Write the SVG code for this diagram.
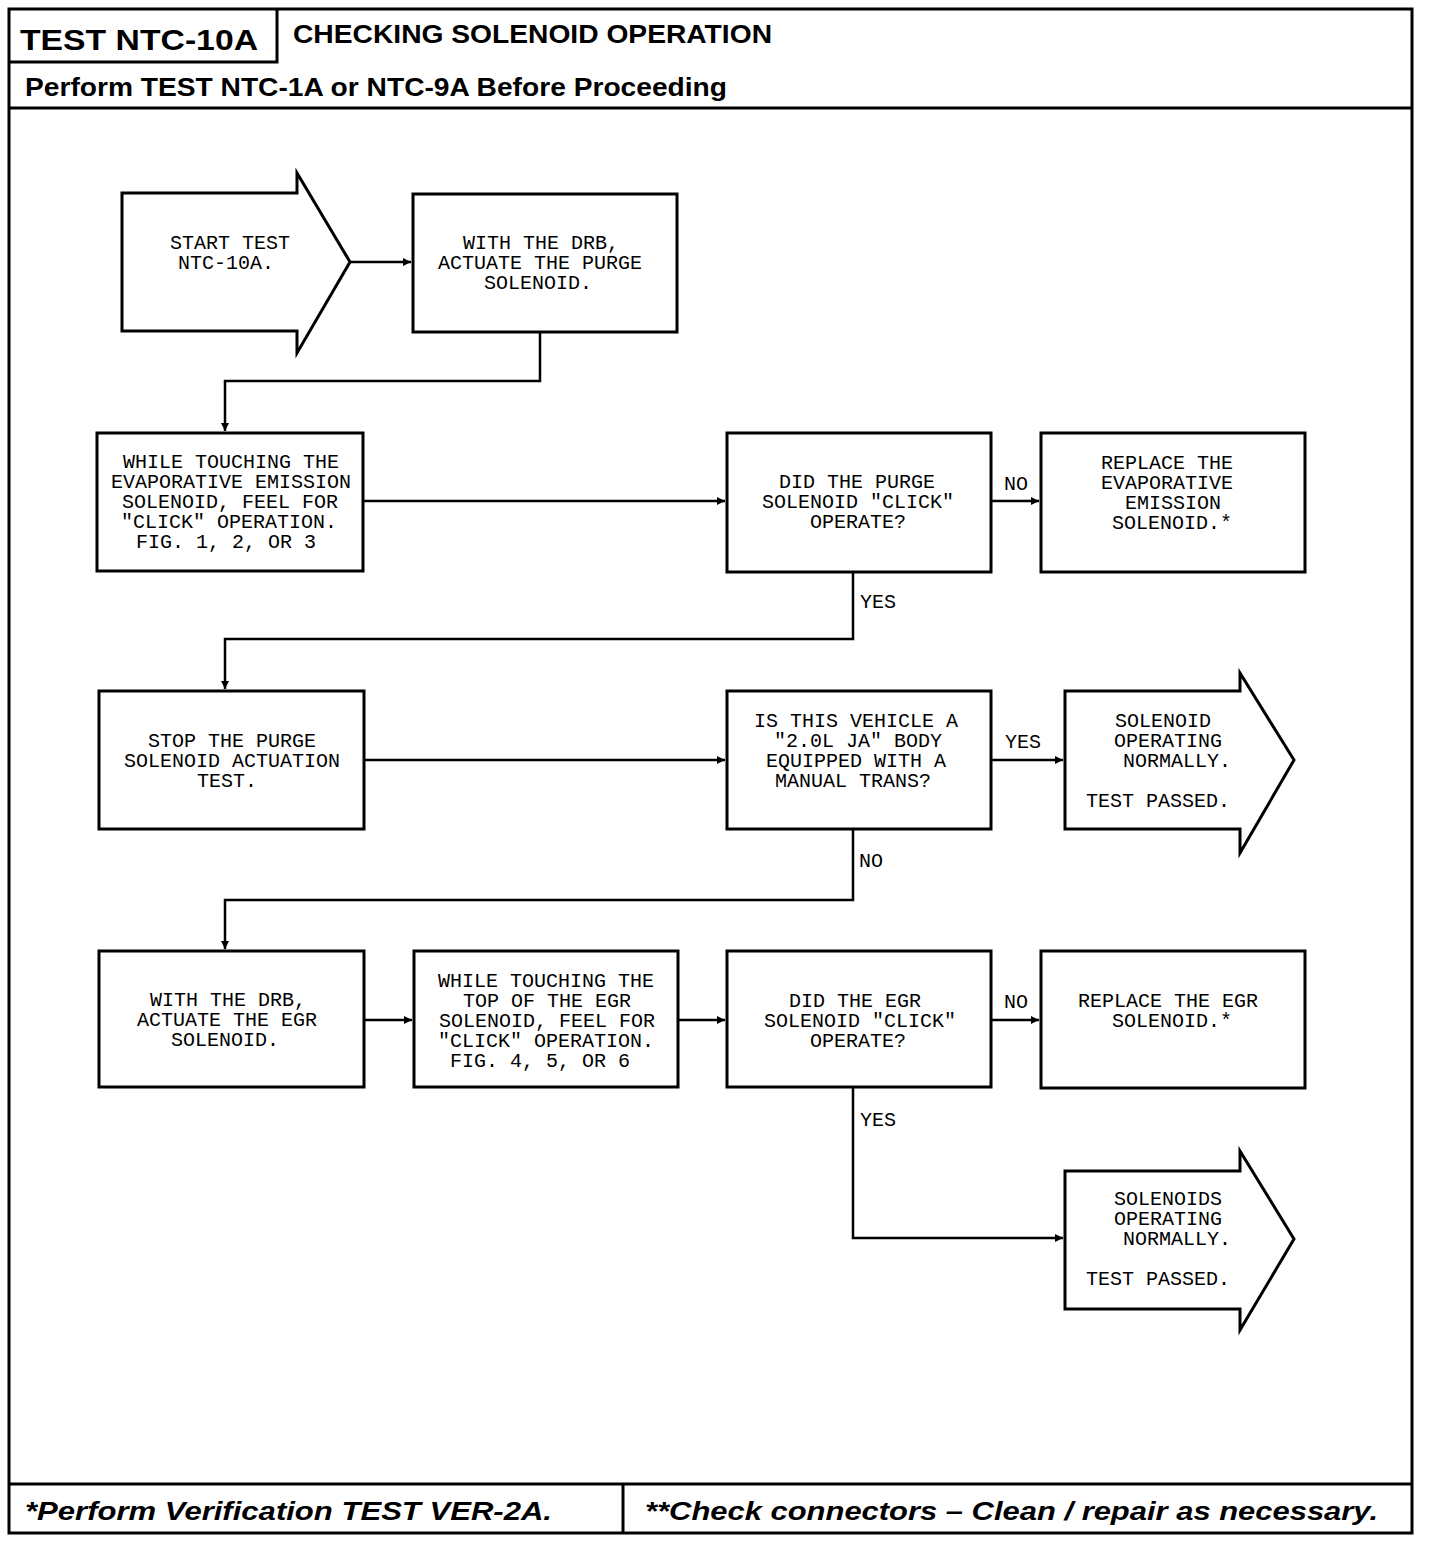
<svg xmlns="http://www.w3.org/2000/svg" width="1440" height="1542" viewBox="0 0 1440 1542">
<style>
.frame{fill:none;stroke:#000;stroke-width:3}
.box{fill:#fff;stroke:#000;stroke-width:3}
.conn{fill:none;stroke:#000;stroke-width:2.5}
.t{font-family:"Liberation Mono","DejaVu Sans Mono",monospace;font-size:20px;fill:#000;text-anchor:middle}
.lbl{font-family:"Liberation Mono","DejaVu Sans Mono",monospace;font-size:20px;fill:#000}
.h{font-family:"Liberation Sans",Arial,sans-serif;font-weight:bold;fill:#000}
.f{font-family:"Liberation Sans",Arial,sans-serif;font-weight:bold;font-style:italic;fill:#000}
</style>
<defs>
<marker id="ah" markerWidth="10" markerHeight="10" refX="8" refY="4" orient="auto" markerUnits="userSpaceOnUse">
<path d="M0,0 L8,4 L0,8 Z" fill="#000"/>
</marker>
</defs>
<rect width="1440" height="1542" fill="#fff"/>
<g id="frame">
<rect class="frame" x="9" y="9" width="1403" height="1524"/>
<path class="frame" d="M9,62 H277 V9"/>
<line class="frame" x1="9" y1="108" x2="1412" y2="108"/>
<line class="frame" x1="9" y1="1484" x2="1412" y2="1484"/>
<line class="frame" x1="623" y1="1484" x2="623" y2="1533"/>
<text class="h" x="20" y="50" font-size="30" textLength="238" lengthAdjust="spacingAndGlyphs">TEST NTC-10A</text>
<text class="h" x="293" y="43" font-size="26" textLength="479" lengthAdjust="spacingAndGlyphs">CHECKING SOLENOID OPERATION</text>
<text class="h" x="25" y="96" font-size="26" textLength="702" lengthAdjust="spacingAndGlyphs">Perform TEST NTC-1A or NTC-9A Before Proceeding</text>
<text class="f" x="25" y="1520" font-size="26" textLength="527" lengthAdjust="spacingAndGlyphs">*Perform  Verification TEST VER-2A.</text>
<text class="f" x="645" y="1520" font-size="26" textLength="733" lengthAdjust="spacingAndGlyphs">**Check connectors – Clean / repair as necessary.</text>
</g>
<g id="connectors">
<line class="conn" x1="350" y1="262" x2="411" y2="262" marker-end="url(#ah)"/>
<path class="conn" d="M540,332 V381 H225 V431" marker-end="url(#ah)"/>
<line class="conn" x1="363" y1="501" x2="725" y2="501" marker-end="url(#ah)"/>
<line class="conn" x1="991" y1="501" x2="1039" y2="501" marker-end="url(#ah)"/>
<path class="conn" d="M853,572 V639 H225 V689" marker-end="url(#ah)"/>
<line class="conn" x1="364" y1="760" x2="725" y2="760" marker-end="url(#ah)"/>
<line class="conn" x1="991" y1="760" x2="1063" y2="760" marker-end="url(#ah)"/>
<path class="conn" d="M853,829 V900 H225 V949" marker-end="url(#ah)"/>
<line class="conn" x1="364" y1="1020" x2="412" y2="1020" marker-end="url(#ah)"/>
<line class="conn" x1="678" y1="1020" x2="725" y2="1020" marker-end="url(#ah)"/>
<line class="conn" x1="991" y1="1020" x2="1039" y2="1020" marker-end="url(#ah)"/>
<path class="conn" d="M853,1087 V1238 H1063" marker-end="url(#ah)"/>
<text class="lbl" x="1004" y="490">NO</text>
<text class="lbl" x="860" y="608">YES</text>
<text class="lbl" x="1005" y="748">YES</text>
<text class="lbl" x="859" y="867">NO</text>
<text class="lbl" x="1004" y="1008">NO</text>
<text class="lbl" x="860" y="1126">YES</text>
</g>
<g id="start">
<path class="box" d="M122,193 H297 V173 L350,262 L297,353 V331 H122 Z"/>
<text class="t" x="230" y="249">START TEST</text>
<text class="t" x="226" y="269">NTC-10A.</text>
</g>
<g id="actuate-purge">
<rect class="box" x="413" y="194" width="264" height="138"/>
<text class="t" x="541" y="249">WITH THE DRB,</text>
<text class="t" x="540" y="269">ACTUATE THE PURGE</text>
<text class="t" x="538" y="289">SOLENOID.</text>
</g>
<g id="touch-evap">
<rect class="box" x="97" y="433" width="266" height="138"/>
<text class="t" x="231" y="468">WHILE TOUCHING THE</text>
<text class="t" x="231" y="488">EVAPORATIVE EMISSION</text>
<text class="t" x="230" y="508">SOLENOID, FEEL FOR</text>
<text class="t" x="229" y="528">"CLICK" OPERATION.</text>
<text class="t" x="226" y="548">FIG. 1, 2, OR 3</text>
</g>
<g id="purge-click">
<rect class="box" x="727" y="433" width="264" height="139"/>
<text class="t" x="857" y="488">DID THE PURGE</text>
<text class="t" x="858" y="508">SOLENOID "CLICK"</text>
<text class="t" x="858" y="528">OPERATE?</text>
</g>
<g id="replace-evap">
<rect class="box" x="1041" y="433" width="264" height="139"/>
<text class="t" x="1167" y="469">REPLACE THE</text>
<text class="t" x="1167" y="489">EVAPORATIVE</text>
<text class="t" x="1173" y="509">EMISSION</text>
<text class="t" x="1172" y="529">SOLENOID.*</text>
</g>
<g id="stop-purge">
<rect class="box" x="99" y="691" width="265" height="138"/>
<text class="t" x="232" y="747">STOP THE PURGE</text>
<text class="t" x="232" y="767">SOLENOID ACTUATION</text>
<text class="t" x="227" y="787">TEST.</text>
</g>
<g id="vehicle-check">
<rect class="box" x="727" y="691" width="264" height="138"/>
<text class="t" x="856" y="727">IS THIS VEHICLE A</text>
<text class="t" x="858" y="747">"2.0L JA" BODY</text>
<text class="t" x="856" y="767">EQUIPPED WITH A</text>
<text class="t" x="853" y="787">MANUAL TRANS?</text>
</g>
<g id="end-purge">
<path class="box" d="M1065,691 H1240 V673 L1294,760 L1240,853 V829 H1065 Z"/>
<text class="t" x="1163" y="727">SOLENOID</text>
<text class="t" x="1168" y="747">OPERATING</text>
<text class="t" x="1177" y="767">NORMALLY.</text>
<text class="t" x="1158" y="807">TEST PASSED.</text>
</g>
<g id="actuate-egr">
<rect class="box" x="99" y="951" width="265" height="136"/>
<text class="t" x="228" y="1006">WITH THE DRB,</text>
<text class="t" x="227" y="1026">ACTUATE THE EGR</text>
<text class="t" x="225" y="1046">SOLENOID.</text>
</g>
<g id="touch-egr">
<rect class="box" x="414" y="951" width="264" height="136"/>
<text class="t" x="546" y="987">WHILE TOUCHING THE</text>
<text class="t" x="547" y="1007">TOP OF THE EGR</text>
<text class="t" x="547" y="1027">SOLENOID, FEEL FOR</text>
<text class="t" x="546" y="1047">"CLICK" OPERATION.</text>
<text class="t" x="540" y="1067">FIG. 4, 5, OR 6</text>
</g>
<g id="egr-click">
<rect class="box" x="727" y="951" width="264" height="136"/>
<text class="t" x="855" y="1007">DID THE EGR</text>
<text class="t" x="860" y="1027">SOLENOID "CLICK"</text>
<text class="t" x="858" y="1047">OPERATE?</text>
</g>
<g id="replace-egr">
<rect class="box" x="1041" y="951" width="264" height="137"/>
<text class="t" x="1168" y="1007">REPLACE THE EGR</text>
<text class="t" x="1172" y="1027">SOLENOID.*</text>
</g>
<g id="end-egr">
<path class="box" d="M1065,1171 H1240 V1151 L1294,1239 L1240,1330 V1309 H1065 Z"/>
<text class="t" x="1168" y="1205">SOLENOIDS</text>
<text class="t" x="1168" y="1225">OPERATING</text>
<text class="t" x="1177" y="1245">NORMALLY.</text>
<text class="t" x="1158" y="1285">TEST PASSED.</text>
</g>
</svg>
